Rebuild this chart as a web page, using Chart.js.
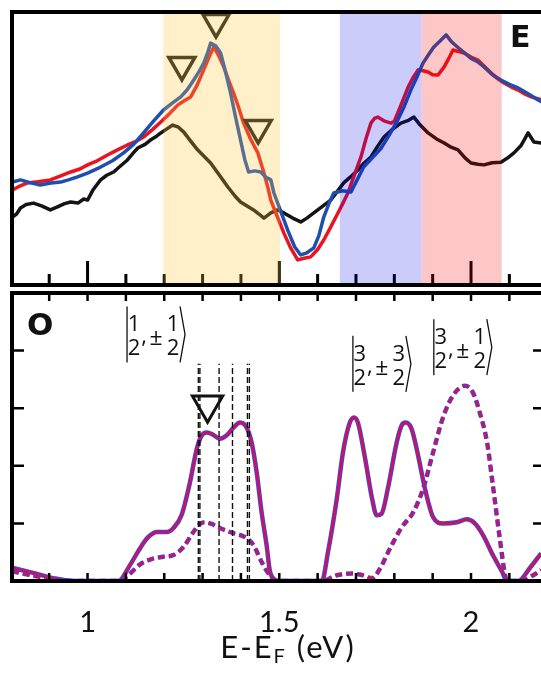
<!DOCTYPE html>
<html>
<head>
<meta charset="utf-8">
<script src="https://cdn.jsdelivr.net/npm/chart.js@4/dist/chart.umd.min.js"></script>
<style>
  html, body { margin: 0; padding: 0; background: #fff; }
  #wrap { position: relative; width: 541px; height: 677px; overflow: hidden; }
  canvas { position: absolute; left: 0; }
  #top-chart { top: 0; }
  #bottom-chart { top: 290px; }
</style>
</head>
<body>
<div id="wrap">
  <canvas id="top-chart" width="541" height="290"></canvas>
  <canvas id="bottom-chart" width="541" height="387"></canvas>
</div>
<script>
// ---- panel E (measured spectra), [energy eV, intensity a.u.]
const blackCurve = [[0.804,24.9],[0.815,26.0],[0.825,28.2],[0.840,29.5],[0.859,30.0],[0.880,29.0],[0.903,27.5],[0.920,28.5],[0.940,29.8],[0.956,30.4],[0.975,30.0],[0.990,31.5],[1.000,31.1],[1.015,35.0],[1.034,38.5],[1.050,40.2],[1.068,41.4],[1.085,43.5],[1.104,45.8],[1.120,48.5],[1.131,50.2],[1.150,51.5],[1.164,53.1],[1.180,54.5],[1.191,55.7],[1.205,57.0],[1.222,58.6],[1.237,57.8],[1.251,56.0],[1.270,52.5],[1.287,49.5],[1.305,47.0],[1.321,44.7],[1.345,40.0],[1.366,35.9],[1.385,32.5],[1.399,30.4],[1.415,29.0],[1.433,27.5],[1.447,26.0],[1.460,24.5],[1.478,26.4],[1.495,27.5],[1.512,26.4],[1.535,24.5],[1.556,23.1],[1.572,24.5],[1.590,26.4],[1.610,28.5],[1.634,31.1],[1.650,34.0],[1.668,37.4],[1.685,39.5],[1.705,42.1],[1.720,44.5],[1.739,46.9],[1.755,50.5],[1.773,54.2],[1.795,57.0],[1.817,59.3],[1.835,60.2],[1.851,61.5],[1.865,59.0],[1.888,55.7],[1.910,53.5],[1.930,52.0],[1.948,50.5],[1.966,49.5],[1.985,46.5],[2.000,44.7],[2.018,44.2],[2.034,44.0],[2.055,44.8],[2.078,45.0],[2.095,46.5],[2.112,48.4],[2.130,51.0],[2.149,55.7],[2.164,52.4],[2.185,52.0]]
const redCurve = [[0.804,34.8],[0.820,36.0],[0.843,37.4],[0.870,37.8],[0.903,38.5],[0.930,40.0],[0.956,41.4],[0.980,42.5],[1.000,44.0],[1.025,45.5],[1.052,47.6],[1.078,49.5],[1.104,51.3],[1.125,52.5],[1.146,54.2],[1.170,57.0],[1.191,59.7],[1.212,62.5],[1.235,65.9],[1.252,67.5],[1.269,68.9],[1.285,73.0],[1.303,78.8],[1.317,83.5],[1.329,87.2],[1.342,84.0],[1.355,79.9],[1.368,75.0],[1.381,70.3],[1.394,65.0],[1.407,59.3],[1.425,53.5],[1.444,48.4],[1.458,42.0],[1.470,35.9],[1.478,31.0],[1.495,25.0],[1.512,19.0],[1.530,13.5],[1.548,9.2],[1.565,9.8],[1.582,10.3],[1.600,13.0],[1.616,16.5],[1.635,21.5],[1.653,26.4],[1.666,30.0],[1.679,33.7],[1.695,40.0],[1.713,46.9],[1.727,54.0],[1.739,59.3],[1.748,61.0],[1.757,61.5],[1.775,60.0],[1.791,59.3],[1.800,60.0],[1.809,63.0],[1.822,67.5],[1.836,72.5],[1.849,76.0],[1.862,78.8],[1.875,78.5],[1.888,78.0],[1.900,77.0],[1.914,76.9],[1.930,79.9],[1.942,83.0],[1.953,86.1],[1.968,85.5],[1.982,85.0],[2.000,83.5],[2.018,82.4],[2.035,80.0],[2.052,77.7],[2.070,75.5],[2.086,74.0],[2.105,72.5],[2.123,71.4],[2.140,70.0],[2.157,68.9],[2.185,67.8]]
const blueCurve = [[0.804,37.7],[0.825,38.5],[0.850,37.5],[0.877,36.6],[0.900,37.3],[0.930,37.7],[0.950,38.5],[0.974,39.6],[1.000,41.0],[1.034,43.2],[1.065,45.5],[1.094,48.4],[1.120,51.5],[1.146,55.7],[1.172,60.0],[1.198,64.1],[1.220,66.5],[1.243,68.9],[1.260,71.5],[1.277,75.1],[1.290,78.0],[1.303,81.3],[1.313,85.0],[1.321,88.6],[1.335,87.5],[1.347,85.0],[1.360,78.0],[1.373,70.3],[1.386,61.5],[1.399,53.1],[1.410,46.0],[1.420,41.4],[1.436,41.8],[1.452,41.4],[1.465,39.5],[1.478,38.5],[1.486,33.7],[1.505,26.5],[1.522,20.1],[1.540,14.0],[1.556,11.0],[1.572,11.8],[1.590,13.6],[1.603,18.0],[1.616,24.9],[1.630,30.0],[1.642,33.7],[1.665,34.5],[1.687,34.1],[1.703,38.5],[1.720,43.2],[1.742,46.5],[1.765,50.0],[1.787,55.0],[1.809,60.4],[1.826,65.5],[1.843,71.4],[1.860,76.5],[1.875,81.3],[1.890,84.5],[1.903,87.2],[1.920,89.5],[1.935,91.6],[1.950,89.0],[1.966,87.0],[1.983,85.0],[2.000,83.0],[2.017,81.8],[2.034,79.9],[2.056,77.0],[2.078,75.1],[2.100,73.5],[2.123,72.2],[2.150,70.0],[2.175,67.8],[2.185,67.0]]
const topMarkerX = [1.246, 1.335, 1.445]
const topMarkerY = [80.6, 96.3, 57.5]
const bandStart = [1.198, 1.658, 1.871]
const bandEnd = [1.502, 1.871, 2.080]
const topTicks = [0.9, 1.0, 1.1, 1.2, 1.3, 1.4, 1.5, 1.6, 1.7, 1.8, 1.9, 2.0, 2.1]
const majorTicks = [1.0, 1.5, 2.0]

// ---- panel O (calculation)
const solidCurve = [[0.803,0.23],[0.858,0.14],[0.910,0.05],[0.962,0],[1.080,0],[1.111,0.28],[1.137,0.57],[1.158,0.76],[1.181,0.85],[1.207,0.85],[1.224,0.92],[1.245,1.14],[1.267,1.71],[1.285,2.30],[1.298,2.53],[1.311,2.58],[1.327,2.54],[1.345,2.47],[1.363,2.53],[1.380,2.66],[1.398,2.75],[1.415,2.66],[1.428,2.40],[1.441,1.89],[1.454,1.19],[1.467,0.62],[1.476,0.16],[1.497,0],[1.611,0],[1.627,0.50],[1.650,1.43],[1.666,2.23],[1.684,2.75],[1.695,2.84],[1.705,2.75],[1.724,2.12],[1.742,1.43],[1.754,1.14],[1.767,1.17],[1.783,1.60],[1.806,2.40],[1.819,2.70],[1.830,2.75],[1.845,2.64],[1.862,2.18],[1.880,1.60],[1.901,1.11],[1.927,1.00],[1.963,1.02],[1.989,1.07],[2.010,1.00],[2.031,0.80],[2.057,0.45],[2.081,0.16],[2.094,0],[2.123,0],[2.154,0.23],[2.183,0.48]]
const dashedCurve = [[0.803,0.17],[0.858,0.09],[0.920,0.03],[0.962,0],[1.080,0],[1.106,0.10],[1.137,0.29],[1.167,0.38],[1.197,0.42],[1.224,0.45],[1.250,0.59],[1.276,0.85],[1.293,0.99],[1.306,1.02],[1.324,0.99],[1.345,0.92],[1.380,0.83],[1.411,0.76],[1.433,0.62],[1.454,0.33],[1.471,0.14],[1.497,0],[1.611,0],[1.650,0.10],[1.689,0.13],[1.718,0.10],[1.742,0.05],[1.763,0.22],[1.789,0.57],[1.819,0.93],[1.849,1.19],[1.875,1.60],[1.901,2.23],[1.927,2.84],[1.953,3.22],[1.984,3.39],[2.005,3.27],[2.023,2.92],[2.042,2.40],[2.057,1.66],[2.075,0.74],[2.089,0.10],[2.094,0],[2.133,0],[2.162,0.10],[2.183,0.19]]
const levelLines = [1.289, 1.293, 1.343, 1.378, 1.417, 1.422]
const levelTop = 3.77
const bottomMarkerX = [1.313]
const bottomMarkerY = [3.06]
const yTicks = [1, 2, 3, 4]
const xLabelValues = [1, 1.5, 2]
const xLabels = ['1', '1.5', '2']
const ketX = [1.103, 1.692, 1.903]
const ketY = [4.28, 3.77, 4.06]
const ketJ = ['1', '3', '3']
const ketM = ['1', '3', '1']

const X_MIN = 0.803
const X_MAX = 2.1825

const bandColors = ['rgba(255,200,60,0.27)', 'rgba(0,0,230,0.2)', 'rgba(245,0,0,0.22)']

const pts = arr => arr.map(([x, y]) => ({ x, y }))

function drawFrame(ctx, a) {
  ctx.save()
  ctx.strokeStyle = '#000'
  ctx.lineWidth = 4
  ctx.lineJoin = 'miter'
  ctx.beginPath()
  ctx.moveTo(a.right + 10, a.top)
  ctx.lineTo(a.left, a.top)
  ctx.lineTo(a.left, a.bottom)
  ctx.lineTo(a.right + 10, a.bottom)
  ctx.stroke()
  ctx.restore()
}

const topDecor = {
  id: 'topDecor',
  afterDatasetsDraw(chart) {
    const { ctx, chartArea: a, scales: { x } } = chart
    ctx.save()
    ctx.strokeStyle = '#000'
    ctx.lineWidth = 3
    topTicks.forEach(v => {
      const px = x.getPixelForValue(v)
      const len = majorTicks.includes(v) ? 24 : 11
      ctx.beginPath()
      ctx.moveTo(px, a.bottom)
      ctx.lineTo(px, a.bottom - len)
      ctx.stroke()
    })
    bandStart.forEach((s, i) => {
      const x0 = x.getPixelForValue(s)
      const x1 = x.getPixelForValue(bandEnd[i])
      ctx.fillStyle = bandColors[i]
      ctx.fillRect(x0, a.top, x1 - x0, a.bottom - a.top)
    })
    ctx.restore()
    drawFrame(ctx, a)
    ctx.save()
    ctx.fillStyle = '#111'
    ctx.font = 'bold 30px "DejaVu Sans"'
    ctx.textBaseline = 'alphabetic'
    ctx.fillText('E', 510, 47)
    ctx.restore()
  }
}

function drawKet(ctx, x0, yMid, j, m) {
  ctx.save()
  ctx.strokeStyle = '#111'
  ctx.fillStyle = '#111'
  ctx.lineWidth = 1.3
  ctx.beginPath()
  ctx.moveTo(x0, yMid - 28)
  ctx.lineTo(x0, yMid + 28)
  ctx.stroke()
  ctx.font = '22px "Open Sans"'
  ctx.textAlign = 'center'
  ctx.textBaseline = 'alphabetic'
  ctx.fillText(j, x0 + 7, yMid - 3)
  ctx.fillText('2', x0 + 7, yMid + 21)
  ctx.fillText(',', x0 + 17, yMid + 9)
  ctx.fillText(m, x0 + 46, yMid - 3)
  ctx.fillText('2', x0 + 46, yMid + 21)
  ctx.font = '23px "Open Sans"'
  ctx.fillText('±', x0 + 29, yMid + 11)
  ctx.beginPath()
  ctx.moveTo(x0 + 53, yMid - 28)
  ctx.lineTo(x0 + 58, yMid)
  ctx.lineTo(x0 + 53, yMid + 28)
  ctx.stroke()
  ctx.restore()
}

const bottomDecor = {
  id: 'bottomDecor',
  afterDatasetsDraw(chart) {
    const { ctx, chartArea: a, scales: { x, y } } = chart
    ctx.save()
    ctx.strokeStyle = '#000'
    ctx.lineWidth = 2.5
    topTicks.forEach(v => {
      const px = x.getPixelForValue(v)
      ctx.beginPath()
      ctx.moveTo(px, a.top); ctx.lineTo(px, a.top + 8)
      ctx.moveTo(px, a.bottom); ctx.lineTo(px, a.bottom - 8)
      ctx.stroke()
    })
    yTicks.forEach(v => {
      const py = y.getPixelForValue(v)
      ctx.beginPath()
      ctx.moveTo(a.left, py); ctx.lineTo(a.left + 12, py)
      ctx.moveTo(a.right, py); ctx.lineTo(a.right - 8, py)
      ctx.stroke()
    })
    ctx.restore()
    drawFrame(ctx, a)

    ctx.save()
    ctx.fillStyle = '#111'
    ctx.font = 'bold 31px "DejaVu Sans"'
    ctx.fillText('O', 27, 45)

    ketX.forEach((kx, i) => drawKet(ctx, x.getPixelForValue(kx), y.getPixelForValue(ketY[i]), ketJ[i], ketM[i]))

    ctx.fillStyle = '#111'
    ctx.font = '29px Lato'
    ctx.textAlign = 'center'
    xLabelValues.forEach((v, i) => ctx.fillText(xLabels[i], x.getPixelForValue(v), 342))

    // axis title with subscript
    ctx.textAlign = 'left'
    ctx.letterSpacing = '2px'
    ctx.font = '31px Lato'
    const w1 = ctx.measureText('E-E').width
    const w3 = ctx.measureText(' (eV)').width
    ctx.font = '20px Lato'
    const w2 = ctx.measureText('F').width
    const sx = 288 - (w1 + w2 + w3) / 2
    ctx.font = '31px Lato'
    ctx.fillText('E-E', sx, 368)
    ctx.font = '20px Lato'
    ctx.fillText('F', sx + w1, 373)
    ctx.font = '31px Lato'
    ctx.fillText(' (eV)', sx + w1 + w2, 368)
    ctx.restore()
  }
}

const baseOptions = (ymax, padding) => ({
  responsive: false,
  animation: false,
  events: [],
  layout: { padding, autoPadding: false },
  plugins: { legend: { display: false }, tooltip: { enabled: false } },
  scales: {
    x: { type: 'linear', min: X_MIN, max: X_MAX, display: false },
    y: { type: 'linear', min: 0, max: ymax, display: false }
  }
})

const spectrum = (data, color) => ({
  data: pts(data),
  borderColor: color,
  borderWidth: 3.5,
  pointRadius: 0,
  tension: 0,
  borderJoinStyle: 'round'
})

// first dataset is drawn on top
new Chart(document.getElementById('top-chart'), {
  type: 'line',
  data: {
    datasets: [
      {
        data: topMarkerX.map((x, i) => ({ x, y: topMarkerY[i] })),
        showLine: false,
        pointStyle: 'triangle',
        pointRotation: 180,
        pointRadius: 15,
        pointBorderWidth: 3.5,
        pointBorderColor: '#1a1a1a',
        pointBackgroundColor: 'rgba(0,0,0,0)',
        clip: false
      },
      spectrum(blueCurve, '#1f4fae'),
      spectrum(redCurve, '#ea1420'),
      spectrum(blackCurve, '#141414')
    ]
  },
  options: baseOptions(100, { left: 12, top: 12, right: 0, bottom: 5 }),
  plugins: [topDecor]
})

const calc = (data, color, width, dash) => ({
  data: pts(data),
  borderColor: color,
  borderWidth: width,
  borderDash: dash,
  pointRadius: 0,
  cubicInterpolationMode: 'monotone'
})

const levelSets = levelLines.map(v => ({
  data: [{ x: v, y: 0 }, { x: v, y: levelTop }],
  borderColor: '#111',
  borderWidth: 1.4,
  borderDash: [6, 3],
  pointRadius: 0
}))

new Chart(document.getElementById('bottom-chart'), {
  type: 'line',
  data: {
    datasets: [
      {
        data: bottomMarkerX.map((x, i) => ({ x, y: bottomMarkerY[i] })),
        showLine: false,
        pointStyle: 'triangle',
        pointRotation: 180,
        pointRadius: 17.5,
        pointBorderWidth: 3,
        pointBorderColor: '#111',
        pointBackgroundColor: 'rgba(0,0,0,0)',
        clip: false
      },
      ...levelSets,
      calc(dashedCurve, '#d6104a', 2.2, [7, 4]),
      calc(dashedCurve, '#4b3fe0', 4.5, [7, 4]),
      calc(solidCurve, '#d6104a', 2.2, []),
      calc(solidCurve, '#4b3fe0', 4.5, [])
    ]
  },
  options: baseOptions(5, { left: 12, top: 3, right: 0, bottom: 96 }),
  plugins: [bottomDecor]
})
</script>
</body>
</html>
